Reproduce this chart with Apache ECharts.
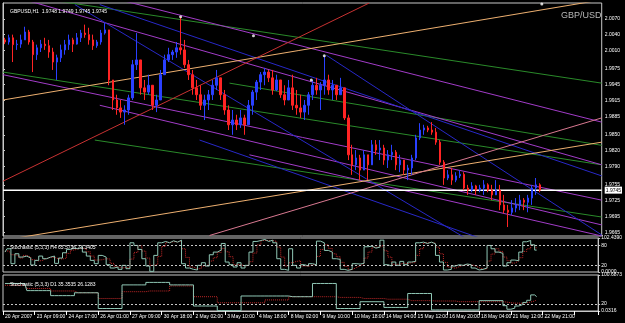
<!DOCTYPE html>
<html>
<head>
<meta charset="utf-8">
<script src="https://cdn.jsdelivr.net/npm/echarts@6/dist/echarts.min.js"></script>
<style>
html,body{margin:0;padding:0;background:#000;}
#main{width:625px;height:323px;}
</style>
</head>
<body>
<div id="main"></div>
<script>
// GBPUSD H1, one candle per 4 hours here
var timeLabels = ['20 Apr 2007','23 Apr 09:00','24 Apr 17:00','26 Apr 01:00','27 Apr 09:00','30 Apr 18:00',
  '2 May 02:00','3 May 10:00','4 May 18:00','8 May 02:00','9 May 10:00','10 May 18:00',
  '14 May 04:00','15 May 12:00','16 May 20:00','18 May 04:00','21 May 12:00','22 May 21:00'];
var slotCount = 150;

// [open, close, low, high]
var bars = [
[2.0030,2.0026,2.0022,2.0034],[2.0026,2.0034,2.0021,2.0040],[2.0034,2.0021,1.9988,2.0040],[2.0021,2.0022,2.0011,2.0030],
[2.0022,2.0030,2.0015,2.0040],[2.0030,2.0045,2.0030,2.0055],[2.0045,2.0026,2.0021,2.0049],[2.0026,2.0002,1.9969,2.0030],
[2.0002,2.0015,1.9992,2.0021],[2.0015,2.0022,2.0007,2.0030],[2.0022,2.0019,2.0011,2.0034],[2.0019,2.0007,1.9996,2.0030],
[2.0007,1.9988,1.9973,2.0015],[1.9988,1.9996,1.9954,2.0002],[1.9996,2.0011,1.9988,2.0021],[2.0011,2.0021,2.0002,2.0030],
[2.0021,2.0030,2.0011,2.0040],[2.0030,2.0022,2.0007,2.0034],[2.0022,2.0034,2.0021,2.0043],[2.0034,2.0043,2.0026,2.0049],
[2.0043,2.0040,2.0034,2.0059],[2.0040,2.0030,2.0021,2.0053],[2.0030,2.0019,2.0011,2.0040],[2.0019,2.0026,2.0015,2.0030],
[2.0026,2.0043,2.0021,2.0049],[2.0043,2.0049,2.0040,2.0062],[2.0049,1.9954,1.9944,2.0049],[1.9954,1.9916,1.9897,1.9954],
[1.9916,1.9901,1.9888,1.9926],[1.9901,1.9893,1.9882,1.9916],[1.9893,1.9897,1.9869,1.9906],[1.9897,1.9920,1.9888,1.9926],
[1.9920,1.9983,1.9916,1.9992],[1.9983,1.9992,1.9973,2.0043],[1.9992,1.9939,1.9926,1.9992],[1.9939,1.9931,1.9916,1.9954],
[1.9931,1.9944,1.9926,1.9964],[1.9944,1.9906,1.9897,1.9944],[1.9906,1.9916,1.9893,1.9926],[1.9916,1.9964,1.9916,1.9973],
[1.9964,1.9992,1.9964,2.0002],[1.9992,2.0002,1.9988,2.0015],[2.0002,2.0007,1.9992,2.0011],[2.0007,2.0015,1.9996,2.0026],
[2.0015,2.0011,2.0002,2.0074],[2.0011,1.9983,1.9977,2.0030],[1.9983,1.9964,1.9954,1.9992],[1.9964,1.9939,1.9926,1.9973],
[1.9939,1.9926,1.9916,1.9954],[1.9926,1.9906,1.9897,1.9944],[1.9906,1.9916,1.9878,1.9926],[1.9916,1.9926,1.9897,1.9935],
[1.9926,1.9944,1.9916,1.9954],[1.9944,1.9958,1.9935,1.9973],[1.9958,1.9926,1.9916,1.9958],[1.9926,1.9897,1.9888,1.9935],
[1.9897,1.9869,1.9859,1.9906],[1.9869,1.9878,1.9850,1.9897],[1.9878,1.9869,1.9859,1.9888],[1.9869,1.9882,1.9863,1.9897],
[1.9882,1.9869,1.9850,1.9888],[1.9869,1.9906,1.9869,1.9916],[1.9906,1.9931,1.9888,1.9935],[1.9931,1.9950,1.9916,1.9954],
[1.9950,1.9964,1.9935,1.9969],[1.9964,1.9969,1.9944,1.9977],[1.9969,1.9958,1.9950,1.9973],[1.9958,1.9935,1.9926,1.9973],
[1.9935,1.9954,1.9933,1.9964],[1.9954,1.9926,1.9920,1.9954],[1.9926,1.9916,1.9906,1.9944],[1.9916,1.9939,1.9916,1.9954],
[1.9939,1.9906,1.9897,1.9964],[1.9906,1.9901,1.9888,1.9935],[1.9901,1.9893,1.9882,1.9926],[1.9893,1.9906,1.9878,1.9916],
[1.9906,1.9926,1.9888,1.9931],[1.9926,1.9944,1.9916,1.9954],[1.9944,1.9935,1.9926,1.9958],[1.9935,1.9944,1.9897,1.9950],
[1.9944,1.9954,1.9926,2.0000],[1.9954,1.9935,1.9926,1.9964],[1.9935,1.9944,1.9916,1.9954],[1.9944,1.9926,1.9916,1.9944],
[1.9926,1.9939,1.9926,1.9958],[1.9939,1.9882,1.9878,1.9939],[1.9882,1.9812,1.9802,1.9888],[1.9812,1.9793,1.9774,1.9831],
[1.9793,1.9806,1.9783,1.9821],[1.9806,1.9783,1.9764,1.9812],[1.9783,1.9812,1.9783,1.9821],[1.9812,1.9793,1.9764,1.9812],
[1.9793,1.9831,1.9793,1.9840],[1.9831,1.9821,1.9812,1.9840],[1.9821,1.9825,1.9802,1.9840],[1.9825,1.9802,1.9793,1.9831],
[1.9802,1.9812,1.9787,1.9821],[1.9812,1.9817,1.9802,1.9831],[1.9817,1.9793,1.9783,1.9821],[1.9793,1.9802,1.9779,1.9812],
[1.9802,1.9783,1.9774,1.9802],[1.9783,1.9787,1.9764,1.9793],[1.9787,1.9806,1.9774,1.9812],[1.9806,1.9844,1.9802,1.9850],
[1.9844,1.9859,1.9840,1.9872],[1.9859,1.9863,1.9850,1.9869],[1.9863,1.9859,1.9855,1.9867],[1.9859,1.9855,1.9850,1.9874],
[1.9855,1.9836,1.9831,1.9863],[1.9836,1.9798,1.9793,1.9840],[1.9798,1.9768,1.9755,1.9802],[1.9768,1.9774,1.9764,1.9783],
[1.9774,1.9764,1.9755,1.9787],[1.9764,1.9772,1.9760,1.9779],[1.9772,1.9775,1.9768,1.9783],[1.9775,1.9749,1.9745,1.9779],
[1.9749,1.9745,1.9736,1.9755],[1.9745,1.9753,1.9741,1.9760],[1.9753,1.9745,1.9736,1.9755],[1.9745,1.9749,1.9741,1.9755],
[1.9749,1.9755,1.9736,1.9764],[1.9755,1.9745,1.9741,1.9758],[1.9745,1.9736,1.9726,1.9755],[1.9736,1.9745,1.9736,1.9764],
[1.9745,1.9717,1.9707,1.9755],[1.9717,1.9707,1.9701,1.9736],[1.9707,1.9703,1.9675,1.9717],[1.9703,1.9711,1.9698,1.9726],
[1.9711,1.9717,1.9703,1.9730],[1.9717,1.9726,1.9707,1.9736],[1.9726,1.9722,1.9707,1.9730],[1.9722,1.9730,1.9703,1.9736],
[1.9730,1.9749,1.9717,1.9755],[1.9749,1.9755,1.9736,1.9768],[1.9755,1.9745,1.9741,1.9758]
];
var currentPrice = 1.9745;

var stochH4Main = [60,70,25,55,45,48,42,21,35,48, 40,45,48,26,42,58,68,72,70,76, 60,48,35,25,50,45,22,12,15,8,
  20,10,88,80,68,40,18,2,50,88, 92,88,94,90,96,25,12,8,6,20, 28,18,52,60,66,86,30,22,15,28,
  12,20,60,92,95,98,92,96,88,40, 8,5,70,20,12,22,18,25,22,93, 88,65,60,40,38,8,5,8,25,24,
  26,76,78,72,75,96,22,18,30,20, 32,22,30,32,88,90,86,90,85,50, 30,6,8,18,22,20,24,22,12,6,
  8,12,80,70,60,56,18,28,36,34, 60,91,95,82,66];
var stochH4Signal = [62,64,52,50,42,50,45,37,33,35, 41,44,44,40,39,42,56,66,70,73, 69,61,48,36,37,40,39,26,16,12,
  14,13,39,59,79,63,42,20,23,47, 77,89,91,91,93,70,44,15,9,11, 18,22,33,43,59,71,61,46,22,22,
  18,20,31,57,82,95,95,95,92,75, 45,18,28,32,34,18,17,22,22,47, 68,82,71,55,46,29,17,7,13,19,
  25,42,60,75,75,81,64,45,23,23, 27,25,28,28,50,70,88,89,87,75, 55,29,15,11,16,20,22,22,19,13,
  9,9,33,54,70,62,45,34,27,33, 43,62,70,80,73];

// daily stochastic, one value per trading day (6 slots each), then the running current day
var stochD1Main = [77,57,43,51,7,73,80,73,14,1,42,42,40,77,7,26,10,49,3,3,29];
var stochD1Signal = [72,63,56,51,35,54,56,70,40,23,23,31,40,40,38,35,33,29,28,26,26];
var stochD1MainLast = [15,5,8,14,18,24,30,45,40];
var stochD1SignalLast = [25,23,22,22,22,23,25,28,31];

var priceTicks = ['2.0070','2.0040','2.0010','1.9975','1.9945','1.9915','1.9885','1.9850','1.9820','1.9790','1.9755','1.9725','1.9695','1.9665'];
var stochH4Ticks = ['102.4390','80','20','0.0000'];
var stochD1Ticks = ['100.6873','20','0.0316'];
var stochH4Levels = [80, 20];
var stochD1Levels = [20];

// trend lines: [slot start, price start, slot end, price end]
var greenLines = [[11.75,2.0106,150,1.9948],[0,1.9969,150,1.9793],[23,1.9840,150,1.9694],[56.75,1.9948,150,1.9830]];
var purpleLines = [[29.25,2.0106,150,1.9874],[5.5,2.0106,150,1.9793],[0,1.9964,150,1.9726],[24.25,1.9906,150,1.9679],[61.75,1.9812,150,1.9658]];
var blueLines = [[18,2.0097,116.75,1.9650],[81,2.0001,150,1.9660],[49.25,1.9840,121,1.9650],[24.25,2.0097,150,1.9772]];
var orangeLines = [[0,1.9916,150,2.0106],[0,1.9650,150,1.9836]];
var pinkLines = [[51.75,1.9659,150,1.9882]];
var redLines = [[0,1.9762,91.75,2.0100]];
var pivotDots = [[44.5,2.0074],[62.75,2.0038],[77.25,1.9954],[80.5,2.0000],[135,2.0098]];

var chart = echarts.init(document.getElementById('main'));
var font = 'Liberation Sans';

var categories = [];
for (var i = 0; i < slotCount; i++) categories.push('s' + i);

var d1Main = [], d1Signal = [];
stochD1Main.forEach(function (v, d) { for (var k = 0; k < 6; k++) { d1Main.push(v); d1Signal.push(stochD1Signal[d]); } });
d1Main = d1Main.concat(stochD1MainLast);
d1Signal = d1Signal.concat(stochD1SignalLast);

function pick(list) {
  return function (v) {
    for (var j = 0; j < list.length; j++) if (Math.abs(Number(list[j]) - v) < 1e-6) return list[j];
    return '';
  };
}

var series = [];
function addLines(list, color, width) {
  list.forEach(function (l) {
    series.push({
      type: 'line', xAxisIndex: 1, yAxisIndex: 0, silent: true, symbol: 'none', clip: true,
      data: [[l[0], l[1]], [l[2], l[3]]],
      lineStyle: { color: color, width: width || 1 }, z: 2
    });
  });
}
addLines(greenLines, '#2a8a2a');
addLines(purpleLines, '#a23cc8');
addLines(blueLines, '#2828c8');
addLines(orangeLines, '#eeb070');
addLines(pinkLines, '#d87890');
addLines(redLines, '#c83232');
// current bid line
addLines([[0, currentPrice, slotCount, currentPrice]], '#ffffff', 1.5);

series.push({
  type: 'candlestick', xAxisIndex: 0, yAxisIndex: 0, barWidth: 2, z: 3,
  data: bars,
  itemStyle: { color: '#2a40ff', color0: '#ff2424', borderColor: '#2a40ff', borderColor0: '#ff2424', borderWidth: 1 }
});
series.push({
  type: 'scatter', xAxisIndex: 1, yAxisIndex: 0, symbolSize: 3, z: 4, silent: true,
  data: pivotDots, itemStyle: { color: '#ffffff' }
});

function levelLines(levels) {
  return {
    silent: true, symbol: 'none', label: { show: false },
    lineStyle: { color: '#c8c8c8', width: 1, type: [2, 2] },
    data: levels.map(function (v) { return { yAxis: v }; })
  };
}
series.push({
  type: 'line', xAxisIndex: 2, yAxisIndex: 1, symbol: 'none', step: 'middle', data: stochH4Signal,
  lineStyle: { color: '#c02828', width: 1, type: 'dotted' }, markLine: levelLines(stochH4Levels)
});
series.push({
  type: 'line', xAxisIndex: 2, yAxisIndex: 1, symbol: 'none', step: 'middle', data: stochH4Main,
  lineStyle: { color: '#8fc7b5', width: 1 }
});
series.push({
  type: 'line', xAxisIndex: 3, yAxisIndex: 2, symbol: 'none', step: 'middle', data: d1Signal,
  lineStyle: { color: '#c02828', width: 1, type: 'dotted' }, markLine: levelLines(stochD1Levels)
});
series.push({
  type: 'line', xAxisIndex: 3, yAxisIndex: 2, symbol: 'none', step: 'middle', data: d1Main,
  lineStyle: { color: '#8fc7b5', width: 1 }
});

function rightAxis(grid, min, max, ticks, extra) {
  var vals = ticks.map(Number).concat(extra || []);
  return {
    type: 'value', gridIndex: grid, position: 'right', min: min, max: max, scale: true,
    splitLine: { show: false },
    axisLine: { show: true, lineStyle: { color: '#c8c8c8' } },
    axisTick: { show: true, length: 2, customValues: vals, lineStyle: { color: '#c8c8c8' } },
    axisLabel: {
      customValues: vals, color: '#ffffff', fontSize: 5, fontFamily: font, margin: 3,
      formatter: function (v) {
        if (extra && Math.abs(v - extra[0]) < 1e-6) return '{cur|' + v.toFixed(4) + '}';
        return pick(ticks)(v);
      },
      rich: { cur: { backgroundColor: '#ffffff', color: '#000000', fontSize: 5, fontFamily: font, padding: [1, 1] } }
    }
  };
}

var option = {
  backgroundColor: '#000000',
  animation: false,
  title: [
    { text: 'GBPUSD,H1  1.9748 1.9749 1.9745 1.9745', left: 5, top: 4, textStyle: { color: '#ffffff', fontSize: 5, fontWeight: 'normal', fontFamily: font } },
    { text: 'GBP/USD', left: 556, top: 6, textStyle: { color: '#b8b8b8', fontSize: 9, fontWeight: 'normal', fontFamily: font } },
    { text: 'Stochastic (5,3,3) H4 65.5736 73.3405', left: 5, top: 240, textStyle: { color: '#ffffff', fontSize: 5, fontWeight: 'normal', fontFamily: font } },
    { text: 'Stochastic (5,3,3) D1 35.3535 26.1283', left: 5, top: 277, textStyle: { color: '#ffffff', fontSize: 5, fontWeight: 'normal', fontFamily: font } }
  ],
  grid: [
    { left: 3, top: 3, width: 600, height: 233, show: true, borderColor: '#c8c8c8', borderWidth: 1 },
    { left: 3, top: 238, width: 600, height: 34, show: true, borderColor: '#c8c8c8', borderWidth: 1 },
    { left: 3, top: 275, width: 600, height: 36, show: true, borderColor: '#c8c8c8', borderWidth: 1 }
  ],
  xAxis: [
    { type: 'category', gridIndex: 0, data: categories, show: false },
    { type: 'value', gridIndex: 0, min: 0, max: slotCount, show: false },
    { type: 'category', gridIndex: 1, data: categories, show: false },
    {
      type: 'category', gridIndex: 2, data: categories,
      axisLine: { show: true, lineStyle: { color: '#c8c8c8' } },
      axisTick: { show: true, interval: 7, length: 4, inside: false, lineStyle: { color: '#ffffff' } },
      axisLabel: {
        interval: 7, align: 'left', color: '#ffffff', fontSize: 5, fontFamily: font, margin: 3,
        formatter: function (v, idx) { return timeLabels[idx / 8] || ''; }
      }
    }
  ],
  yAxis: [
    rightAxis(0, 1.9658, 2.0100, priceTicks, [currentPrice]),
    rightAxis(1, 0, 102.439, stochH4Ticks),
    rightAxis(2, 0.0316, 100.6873, stochD1Ticks)
  ],
  series: series
};

chart.setOption(option);
</script>
</body>
</html>
